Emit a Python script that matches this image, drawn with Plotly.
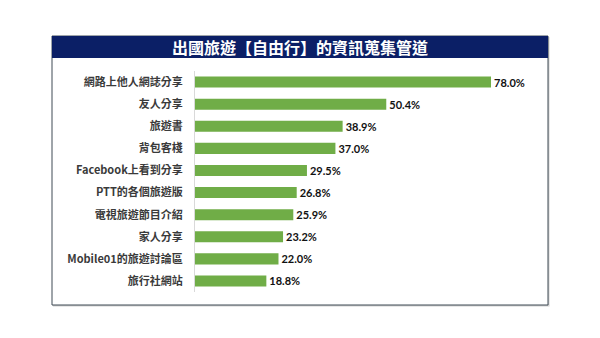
import plotly.graph_objects as go

categories = ["網路上他人網誌分享", "友人分享", "旅遊書", "背包客棧", "Facebook上看到分享",
              "PTT的各個旅遊版", "電視旅遊節目介紹", "家人分享", "Mobile01的旅遊討論區", "旅行社網站"]
values = [78.0, 50.4, 38.9, 37.0, 29.5, 26.8, 25.9, 23.2, 22.0, 18.8]
value_labels = ["78.0%", "50.4%", "38.9%", "37.0%", "29.5%", "26.8%", "25.9%", "23.2%", "22.0%", "18.8%"]
title_text = "出國旅遊【自由行】的資訊蒐集管道"

W, H = 600, 338
L, R, T, B = 195, 548, 71, 292  # plot area in pixels

def px(x):
    return (x - L) / (R - L)

def py(y):
    return (B - y) / (B - T)

fig = go.Figure()
fig.add_trace(go.Bar(
    y=categories, x=values, orientation="h",
    marker=dict(color="#70ad47", line=dict(width=0)),
    width=0.5,
    text=value_labels, textposition="outside", constraintext="none",
    textfont=dict(family="Lato, 'Noto Sans CJK TC'", size=11, color="#111111", weight="bold"),
    cliponaxis=False,
))

shapes = [
    # shadow
    dict(type="rect", xref="paper", yref="paper", x0=px(53), x1=px(549.5), y0=py(306.5), y1=py(37),
         line=dict(width=0), fillcolor="rgba(0,0,0,0.18)", layer="below"),
    # box
    dict(type="rect", xref="paper", yref="paper", x0=px(52), x1=px(548), y0=py(305), y1=py(36),
         line=dict(color="#3f4a55", width=1), fillcolor="white", layer="below"),
    # header
    dict(type="rect", xref="paper", yref="paper", x0=px(52), x1=px(548), y0=py(58), y1=py(36),
         line=dict(width=0), fillcolor="#0b1f66", layer="below"),
]

fig.update_layout(
    width=W, height=H,
    margin=dict(l=L, r=W - R, t=T, b=H - B, pad=0),
    paper_bgcolor="white", plot_bgcolor="rgba(0,0,0,0)",
    showlegend=False,
    shapes=shapes,
    annotations=[dict(
        text=title_text, xref="paper", yref="paper", x=px(300), y=py(47.5),
        xanchor="center", yanchor="middle", showarrow=False,
        font=dict(family="'Noto Sans CJK TC'", size=16, color="white", weight="bold"),
    )],
    xaxis=dict(range=[0, (R - L) / 3.795], showgrid=False, zeroline=False, showticklabels=False,
               showline=False, fixedrange=True),
    yaxis=dict(autorange="reversed", showgrid=False, zeroline=False, showline=True,
               linecolor="#d9d9d9", linewidth=1, ticks="", ticklabelstandoff=9,
               tickfont=dict(family="'Noto Sans CJK TC', Lato", size=11, color="#3a3a3a", weight="bold")),
    font=dict(family="'Noto Sans CJK TC'"),
)

fig.write_html("out.html")
